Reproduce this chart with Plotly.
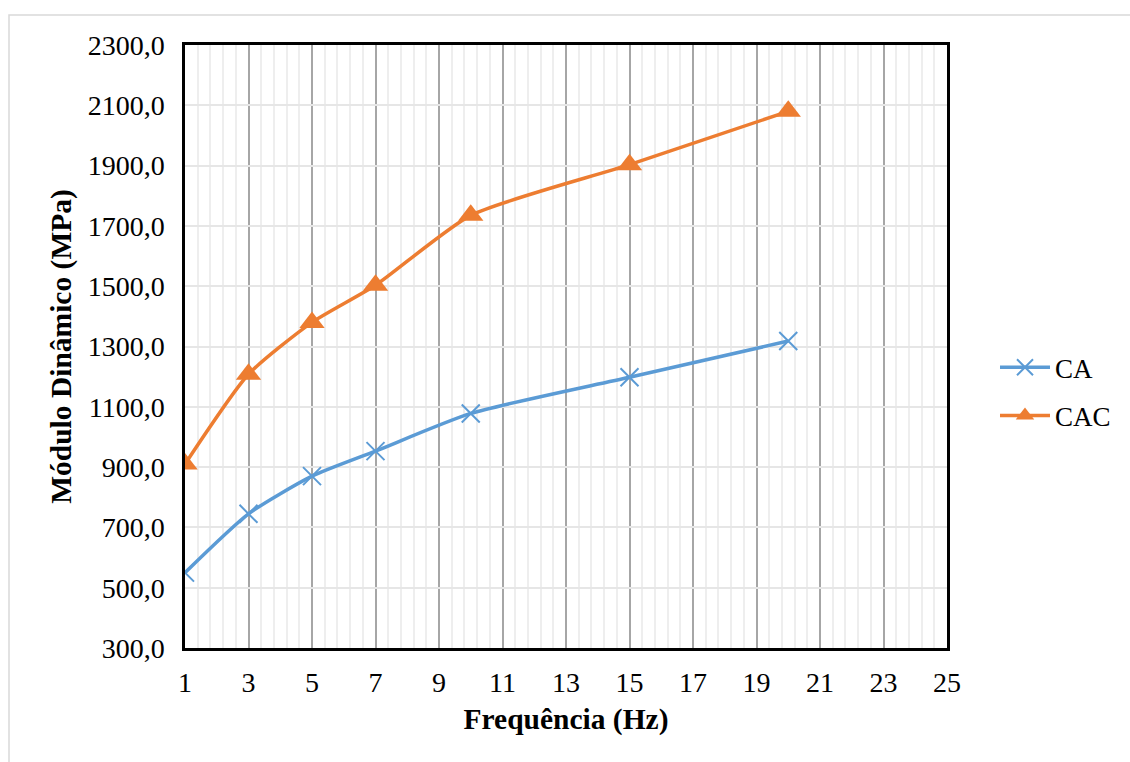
import plotly.graph_objects as go

# Frequency sweep (Hz) and dynamic modulus (MPa) for each mixture
freq = [1, 3, 5, 7, 10, 15, 20]
ca_modulus = [550, 745, 870, 953, 1078, 1198, 1318]
cac_modulus = [910, 1208, 1380, 1503, 1735, 1903, 2080]

x_ticks = [1, 3, 5, 7, 9, 11, 13, 15, 17, 19, 21, 23, 25]
y_ticks = [300, 500, 700, 900, 1100, 1300, 1500, 1700, 1900, 2100, 2300]

FONT = "Liberation Serif, Times New Roman, serif"
BLUE = "#5b9bd5"
ORANGE = "#ed7d31"

W, H = 1130, 762
L, R, T, B = 185, 183, 45, 114
pw, ph = W - L - R, H - T - B

fig = go.Figure()
fig.add_trace(go.Scatter(
    x=freq, y=ca_modulus, name="CA", mode="lines+markers", legendgroup="ca",
    line=dict(color=BLUE, width=3.5, shape="spline", smoothing=0.6),
    marker=dict(symbol="x-thin", size=18, line=dict(color=BLUE, width=2)),
))
fig.add_trace(go.Scatter(
    x=freq, y=cac_modulus, name="CAC", mode="lines+markers", legendgroup="cac",
    line=dict(color=ORANGE, width=3.5, shape="spline", smoothing=0.6),
    marker=dict(symbol="triangle-up", size=22, color=ORANGE),
))

# light outer chart border
fig.add_shape(
    type="rect", xref="paper", yref="paper",
    x0=(9 - L) / pw, x1=(W + 10 - L) / pw,
    y0=(H - (H + 10) - B) / ph, y1=(H - 15 - B) / ph,
    line=dict(color="#d9d9d9", width=1.5), fillcolor="rgba(0,0,0,0)", layer="below",
)

fig.update_layout(
    width=W, height=H,
    margin=dict(l=L, r=R, t=T, b=B),
    paper_bgcolor="white", plot_bgcolor="white",
    separators=",.",
    font=dict(family=FONT, size=28, color="black"),
    showlegend=True,
    legend=dict(
        x=(995 - L) / pw, xanchor="left", y=0.425, yanchor="middle",
        font=dict(family=FONT, size=27, color="black"),
        itemwidth=50, tracegroupgap=10,
        bgcolor="rgba(0,0,0,0)",
    ),
    xaxis=dict(
        range=[1, 25], tickmode="array", tickvals=x_ticks,
        ticktext=[str(v) for v in x_ticks],
        showgrid=True, gridcolor="#a6a6a6", gridwidth=1.5,
        minor=dict(dtick=0.4, tick0=1, showgrid=True, gridcolor="#eeeeee", gridwidth=1.5),
        showline=True, mirror=True, linecolor="black", linewidth=2.5,
        ticks="", zeroline=False, ticklabelstandoff=8,
        tickfont=dict(family=FONT, size=28),
        title=dict(text="<b>Frequência (Hz)</b>", font=dict(family=FONT, size=29.5), standoff=12),
    ),
    yaxis=dict(
        range=[300, 2300], tickmode="array", tickvals=y_ticks,
        tickformat=".1f",
        showgrid=True, gridcolor="#e6e6e6", gridwidth=2,
        showline=True, mirror=True, linecolor="black", linewidth=2.5,
        ticks="", zeroline=False, ticklabelstandoff=12,
        tickfont=dict(family=FONT, size=28),
        title=dict(text="<b>Módulo Dinâmico (MPa)</b>", font=dict(family=FONT, size=29.5), standoff=8),
    ),
)

fig.write_html("out.html")
